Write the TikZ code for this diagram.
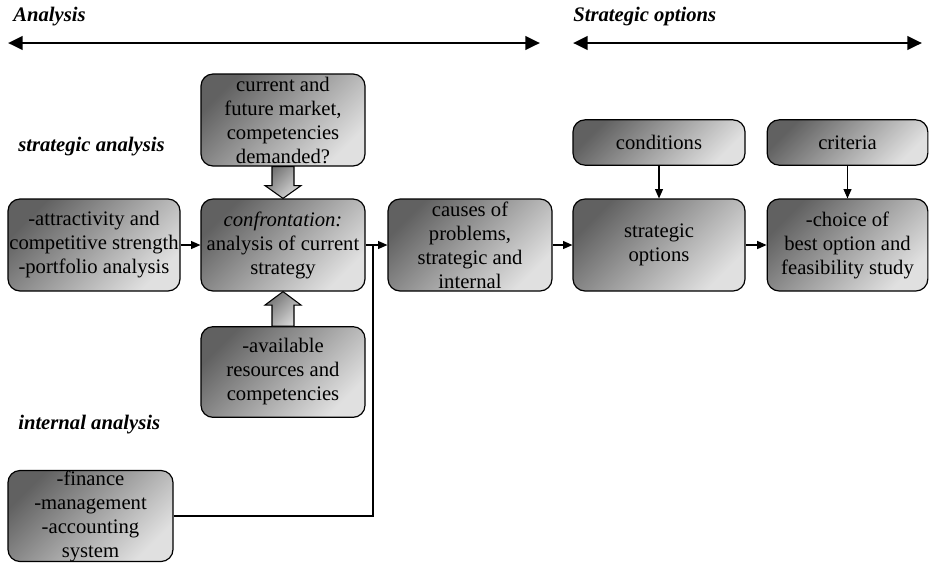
\documentclass[tikz,border=0pt]{standalone}
\usepackage{fontspec}
\setmainfont{Liberation Serif}
\usetikzlibrary{arrows.meta,calc}
\begin{document}
\begin{tikzpicture}[x=0.75pt,y=-0.75pt,
  box/.style={draw=black, line width=0.9pt, rounded corners=9pt,
    top color=black!62, bottom color=black!12, shading angle=45,
    align=center, inner sep=0pt, text=black,
    font=\fontsize{15.5}{18}\selectfont},
  heading/.style={anchor=west, inner sep=0pt, font=\fontsize{15.5}{18}\selectfont\bfseries\itshape},
  span/.style={line width=2.2pt, {Triangle[length=11pt,width=10pt]}-{Triangle[length=11pt,width=10pt]}},
  conn/.style={line width=0.8pt, -{Triangle[length=7pt,width=6pt]}},
  line/.style={line width=0.8pt},
  blockarrow/.style={draw=black, line width=0.8pt, top color=black!55, bottom color=black!15, shading angle=45}
]
\useasboundingbox (0,0) rectangle (930,562);

% headings
\node[heading] (hA) at (13,17) {Analysis};
\node[heading] (hS) at (573,17) {Strategic options};
\node[heading] (hsa) at (18,147) {strategic analysis};
\node[heading] (hia) at (18,425) {internal analysis};

\coordinate (aL) at (8,43);
\coordinate (aR) at (540,43);
\coordinate (sL) at (573,43);
\coordinate (sR) at (922,43);
\draw[span] (aL) -- (aR);
\draw[span] (sL) -- (sR);

% boxes
\node[box, minimum width=129pt, minimum height=69pt] (attr) at (94,245)
  {-attractivity and\\competitive strength\\-portfolio analysis};
\node[box, minimum width=123pt, minimum height=69pt] (top) at (283,120)
  {current and\\future market,\\competencies\\demanded?};
\node[box, minimum width=123pt, minimum height=69pt] (conf) at (283,245)
  {\textit{confrontation:}\\analysis of current\\strategy};
\node[box, minimum width=123pt, minimum height=68pt] (avail) at (283,372)
  {-available\\resources and\\competencies};
\node[box, minimum width=123pt, minimum height=69pt] (causes) at (470,245)
  {causes of\\problems,\\strategic and\\internal};
\node[box, minimum width=129pt, minimum height=34pt] (cond) at (659,142.5)
  {conditions};
\node[box, minimum width=129pt, minimum height=69pt] (strat) at (659,245)
  {strategic\\options};
\node[box, minimum width=120.5pt, minimum height=34pt] (crit) at (847.5,142.5)
  {criteria};
\node[box, minimum width=120.5pt, minimum height=69pt] (choice) at (847.5,245)
  {-choice of\\best option and\\feasibility study};
\node[box, minimum width=123.75pt, minimum height=66pt] (fin) at (90.5,516)
  {-finance\\-management\\-accounting\\system};

% block arrows
\path[blockarrow] ($(top.south)+(-11,0)$) -- ($(top.south)+(-11,19)$) -- ($(top.south)+(-18,19)$)
  -- (conf.north) -- ($(top.south)+(18,19)$) -- ($(top.south)+(11,19)$) -- ($(top.south)+(11,0)$) -- cycle;
\path[blockarrow] ($(avail.north)+(-11,0)$) -- ($(avail.north)+(-11,-21)$) -- ($(avail.north)+(-18,-21)$)
  -- (conf.south) -- ($(avail.north)+(18,-21)$) -- ($(avail.north)+(11,-21)$) -- ($(avail.north)+(11,0)$) -- cycle;

% connectors
\coordinate (J) at (373,245);
\draw[conn] (attr) -- (conf);
\draw[conn] (conf) -- (causes);
\draw[line] (fin.east) -| (J);
\draw[conn] (causes) -- (strat);
\draw[conn] (strat) -- (choice);
\draw[conn] (cond) -- (strat);
\draw[conn] (crit) -- (choice);
\end{tikzpicture}
\end{document}
